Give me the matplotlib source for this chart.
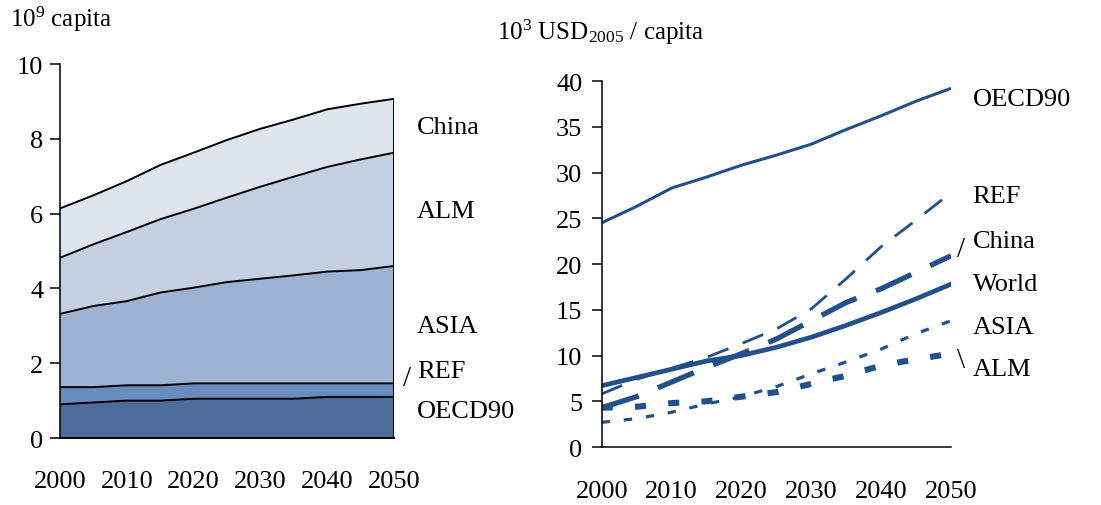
import matplotlib
matplotlib.use("Agg")
import matplotlib.pyplot as plt

plt.rcParams['font.family'] = ['Liberation Serif', 'DejaVu Serif']
plt.rcParams['mathtext.fontset'] = 'custom'
plt.rcParams['mathtext.rm'] = 'Liberation Serif'
plt.rcParams['mathtext.default'] = 'regular'
plt.rcParams['lines.scale_dashes'] = False

# years (5-year steps)
years = [2000, 2005, 2010, 2015, 2020, 2025, 2030, 2035, 2040, 2045, 2050]

# population, 10^9 capita (per region, stacked bottom to top)
pop_oecd90 = [0.90, 0.95, 1.00, 1.00, 1.05, 1.05, 1.05, 1.05, 1.10, 1.10, 1.10]
pop_ref = [0.46, 0.41, 0.41, 0.41, 0.41, 0.41, 0.41, 0.41, 0.36, 0.36, 0.36]
pop_asia = [1.96, 2.17, 2.25, 2.48, 2.56, 2.71, 2.80, 2.89, 2.99, 3.03, 3.14]
pop_alm = [1.50, 1.65, 1.85, 1.96, 2.11, 2.26, 2.46, 2.64, 2.80, 2.96, 3.03]
pop_china = [1.32, 1.31, 1.36, 1.45, 1.50, 1.54, 1.55, 1.53, 1.54, 1.49, 1.44]
pop_names = ['OECD90', 'REF', 'ASIA', 'ALM', 'China']
pop_colors = ['#4c6c99', '#6a8bbd', '#9db1d0', '#c3d0e2', '#dfe5ef']

# GDP per capita, 10^3 USD2005 / capita
gdp_oecd90 = [24.5, 26.3, 28.3, 29.5, 30.8, 31.9, 33.1, 34.7, 36.2, 37.8, 39.2]
gdp_ref = [5.8, 7.4, 8.6, 9.8, 11.3, 12.9, 15.1, 18.4, 21.9, 24.8, 27.8]
gdp_china = [4.3, 5.5, 7.1, 8.7, 10.2, 11.8, 13.8, 15.8, 17.3, 19.1, 20.9]
gdp_world = [6.7, 7.6, 8.5, 9.4, 10.0, 10.9, 12.0, 13.3, 14.7, 16.2, 17.8]
gdp_asia = [2.7, 3.1, 3.8, 4.7, 5.5, 6.6, 8.0, 9.3, 10.7, 12.4, 13.8]
gdp_alm = [4.3, 4.4, 4.8, 5.0, 5.5, 6.0, 6.9, 7.8, 8.9, 9.6, 10.2]

blue = '#22508a'

fig = plt.figure(figsize=(11.01, 5.06), dpi=100)
ax1 = fig.add_axes([0.0545, 0.1324, 0.3034, 0.739])
ax2 = fig.add_axes([0.5465, 0.1146, 0.3173, 0.7233])

# ---- left: stacked population
layers = [pop_oecd90, pop_ref, pop_asia, pop_alm, pop_china]
ax1.stackplot(years, *layers, colors=pop_colors, linewidth=0)
cum = [0] * len(years)
for vals in layers:
    cum = [c + v for c, v in zip(cum, vals)]
    ax1.plot(years, cum, color='black', lw=1.4)
ax1.vlines(years[-1], 0, cum[-1], color='black', lw=1.4)

ax1.set_xlim(2000, 2050)
ax1.set_ylim(0, 10)
ax1.set_yticks([0, 2, 4, 6, 8, 10])
ax1.set_xticks([2000, 2010, 2020, 2030, 2040, 2050])
ax1.spines[['top', 'right']].set_visible(False)
ax1.spines['left'].set_linewidth(1.1)
ax1.spines['bottom'].set_linewidth(1.4)
ax1.tick_params(axis='y', length=7, width=1.1, pad=5, labelsize=19)
ax1.tick_params(axis='x', length=0, pad=23, labelsize=19)

pop_label_y = [0.72, 1.79, 3.0, 6.07, 8.32]
for name, yy in zip(pop_names, pop_label_y):
    ax1.text(2053.4, yy, name, fontsize=19, ha='left', va='center', clip_on=False)
ax1.text(2051.4, 1.6, '/', fontsize=21, ha='left', va='center', clip_on=False)
fig.text(0.009, 0.962, r'10$^{9}$ capita', fontsize=18, ha='left', va='center')

# ---- right: GDP per capita
ax2.plot(years, gdp_oecd90, color=blue, lw=2.2, solid_capstyle='butt')
ax2.plot(years, gdp_ref, color=blue, lw=2.0, dashes=(16, 11), dash_capstyle='butt')
ax2.plot(years, gdp_china, color=blue, lw=3.8, dashes=(28, 15), dash_capstyle='butt')
ax2.plot(years, gdp_world, color=blue, lw=3.4, solid_capstyle='round')
ax2.plot(years, gdp_asia, color=blue, lw=2.3, dashes=(6, 10), dash_capstyle='butt')
ax2.plot(years, gdp_alm, color=blue, lw=4.4, dashes=(8, 16), dash_capstyle='butt')

ax2.set_xlim(2000, 2050)
ax2.set_ylim(0, 40)
ax2.set_yticks(range(0, 41, 5))
ax2.set_xticks([2000, 2010, 2020, 2030, 2040, 2050])
ax2.spines[['top', 'right']].set_visible(False)
ax2.spines[['left', 'bottom']].set_linewidth(1.1)
ax2.tick_params(axis='y', length=7, width=1.1, pad=7, labelsize=19)
ax2.tick_params(axis='x', length=0, pad=24, labelsize=19)

gdp_names = ['OECD90', 'REF', 'China', 'World', 'ASIA', 'ALM']
gdp_label_y = [38.0, 27.4, 22.5, 17.8, 13.1, 8.5]
for name, yy in zip(gdp_names, gdp_label_y):
    ax2.text(2053.1, yy, name, fontsize=19, ha='left', va='center', clip_on=False)
ax2.text(2050.9, 21.6, '/', fontsize=21, ha='left', va='center', clip_on=False)
ax2.text(2050.9, 9.5, '\\', fontsize=21, ha='left', va='center', clip_on=False)
fig.text(0.451, 0.937, r'10$^{3}$ USD$_{2005}$ / capita', fontsize=18, ha='left', va='center')

fig.savefig('out.png', dpi=100)
